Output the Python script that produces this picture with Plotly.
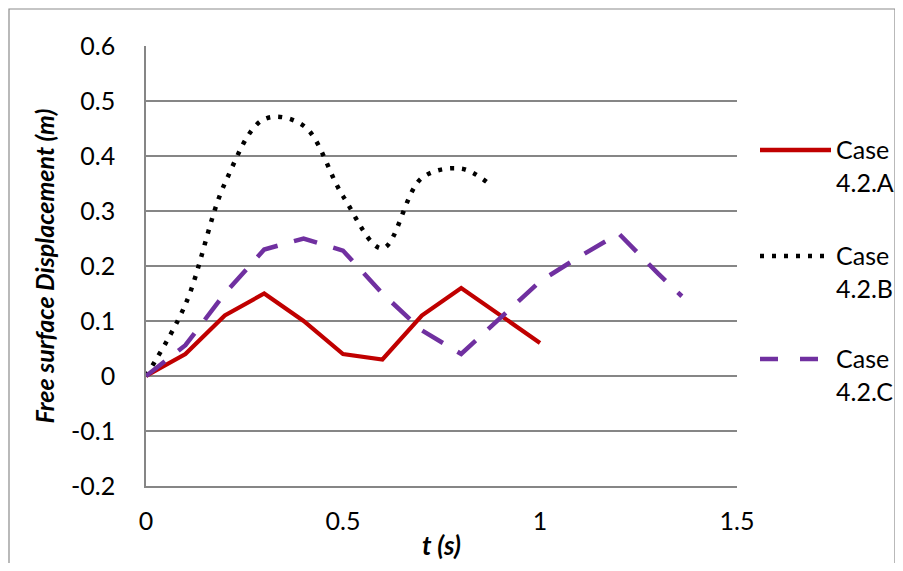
import plotly.graph_objects as go

# ---- data ----
t_a = [0, 0.1, 0.2, 0.3, 0.4, 0.5, 0.6, 0.7, 0.8, 0.9, 1.0]
y_a = [0, 0.04, 0.11, 0.15, 0.10, 0.04, 0.03, 0.11, 0.16, 0.11, 0.06]

t_b = [0, 0.1, 0.2, 0.3, 0.4, 0.5, 0.6, 0.7, 0.8, 0.87]
y_b = [0, 0.13, 0.35, 0.467, 0.455, 0.327, 0.232, 0.36, 0.377, 0.35]

t_c = [0, 0.1, 0.2, 0.3, 0.4, 0.5, 0.6, 0.7, 0.8, 0.9, 1.0, 1.1, 1.2, 1.3, 1.36]
y_c = [0, 0.056, 0.15, 0.23, 0.25, 0.228, 0.15, 0.083, 0.04, 0.107, 0.172, 0.217, 0.259, 0.186, 0.145]

names = ["Case<br>4.2.A", "Case<br>4.2.B", "Case<br>4.2.C"]
colors = ["#C00000", "#000000", "#7030A0"]

y_ticks = [-0.2, -0.1, 0, 0.1, 0.2, 0.3, 0.4, 0.5, 0.6]
y_ticktext = ["-0.2", "-0.1", "0", "0.1", "0.2", "0.3", "0.4", "0.5", "0.6"]
x_ticks = [0, 0.5, 1, 1.5]
x_ticktext = ["0", "0.5", "1", "1.5"]

OFF = 8  # page body margin
W, H = 903 - 2 * OFF, 571 - 2 * OFF
L, R, T, B = 146, 737, 46, 486  # plot area in page pixels


def px(x):
    return (x - L) / (R - L)


def py(y):
    return (B - y) / (B - T)


FONT = "Lato"
FS = 25

fig = go.Figure()
fig.add_trace(go.Scatter(x=t_a, y=y_a, mode="lines", name=names[0], showlegend=False,
                         line=dict(color=colors[0], width=4.2)))
fig.add_trace(go.Scatter(x=t_b, y=y_b, mode="lines", name=names[1], showlegend=False,
                         line=dict(color=colors[1], width=4.5, dash="4px,8px", shape="spline", smoothing=1.0)))
fig.add_trace(go.Scatter(x=t_c, y=y_c, mode="lines", name=names[2], showlegend=False,
                         line=dict(color=colors[2], width=4.5, dash="24px,17px")))

shapes = []
annotations = []
# chart border
shapes.append(dict(type="rect", xref="paper", yref="paper",
                   x0=px(9), x1=px(895), y0=py(580), y1=py(9),
                   line=dict(color="#8C8C8C", width=1.2), fillcolor="rgba(0,0,0,0)", layer="below"))

# manual legend
leg_y = [150, 256, 359]
dashes = ["solid", "4px,8px", "18px,22px"]
for i in range(3):
    shapes.append(dict(type="line", xref="paper", yref="paper",
                       x0=px(760), x1=px(831), y0=py(leg_y[i]), y1=py(leg_y[i]),
                       line=dict(color=colors[i], width=4.5, dash=dashes[i])))
    annotations.append(dict(xref="paper", yref="paper", x=px(834), y=py(leg_y[i] - 18),
                            xanchor="left", yanchor="top", align="left", showarrow=False,
                            text=names[i], font=dict(family=FONT, size=FS, color="#000000")))

fig.update_layout(
    width=W, height=H,
    margin=dict(l=L - OFF, r=(W + OFF) - R, t=T - OFF, b=(H + OFF) - B, autoexpand=False),
    plot_bgcolor="white", paper_bgcolor="white",
    font=dict(family=FONT, size=FS, color="#000000"),
    shapes=shapes, annotations=annotations,
    showlegend=False,
)
fig.update_xaxes(range=[0, 1.5], tickvals=x_ticks, ticktext=x_ticktext, showgrid=False, zeroline=False,
                 showline=True, linecolor="#868686", linewidth=1.5,
                 ticks="", ticklabelstandoff=12,
                 tickfont=dict(family=FONT, size=FS),
                 title=dict(text="<b><i>t (s)</i></b>", font=dict(family=FONT, size=26), standoff=3))
fig.update_yaxes(range=[-0.2, 0.6], tickvals=y_ticks, ticktext=y_ticktext, showgrid=True,
                 gridcolor="#868686", gridwidth=1.5,
                 zeroline=False, showline=True, linecolor="#868686", linewidth=1.5,
                 ticks="", ticklabelstandoff=24,
                 tickfont=dict(family=FONT, size=FS),
                 title=dict(text="<b><i>Free surface Displacement (m)</i></b>", font=dict(family=FONT, size=25), standoff=9))

fig.write_html("out.html")
